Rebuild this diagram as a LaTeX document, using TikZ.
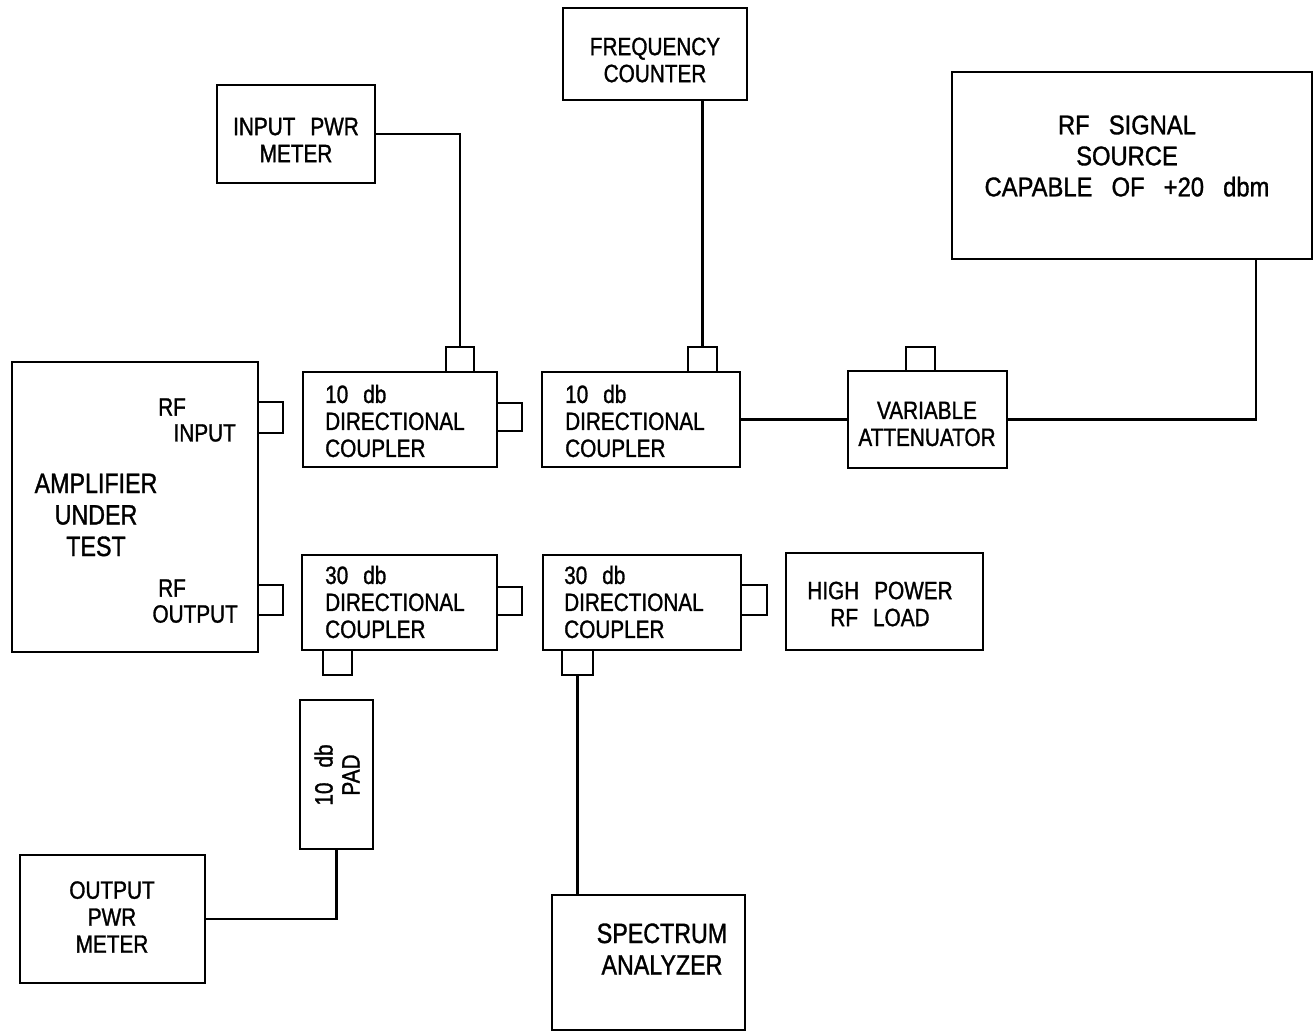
\documentclass[tikz,border=0pt]{standalone}
\usepackage{fontspec}
\setmainfont{Liberation Sans}[FakeStretch=0.83,WordSpace=2.6,FakeBold=1.2]
\newfontfamily\widefont{Liberation Sans}[FakeStretch=0.88,WordSpace=2.9,FakeBold=1.2]
\usetikzlibrary{fit}
\tikzset{
  box/.style={draw, line width=2.2pt, inner sep=0pt},
  wire/.style={line width=2.2pt},
  txt/.style={inner sep=0pt, align=center, font=\fontsize{25}{27}\selectfont},
  bigtxt/.style={txt, font=\fontsize{28}{31.5}\selectfont},
  txtl/.style={txt, align=left, anchor=west},
}
\newcommand{\mybox}[5]{%
  \path (#2,#3) coordinate (#1-nw) (#4,#5) coordinate (#1-se);
  \node[box, fit=(#1-nw)(#1-se)] (#1) {};}
\begin{document}
\begin{tikzpicture}[x=1pt,y=-1pt]
\useasboundingbox (0,0) rectangle (1314,1033);
% amplifier
\mybox{amp}{12}{362}{258}{652}
\mybox{ampin}{258}{402}{283}{433}
\mybox{ampout}{258}{585}{283}{615}
\node[bigtxt] (amptxt) at (96,515) {AMPLIFIER\\UNDER\\TEST};
\node[txt, anchor=west] (rfin1) at (158,407) {RF};
\node[txt, anchor=east] (rfin2) at (236,433) {INPUT};
\node[txt, anchor=west] (rfout1) at (158,588) {RF};
\node[txt, anchor=east] (rfout2) at (238,614) {OUTPUT};
% 10 db couplers
\mybox{ca}{303}{372}{497}{467}
\mybox{cat}{446}{347}{474}{372}
\mybox{car}{497}{403}{522}{431}
\node[txtl] (catxt) at (325,421) {10 db\\DIRECTIONAL\\COUPLER};
\mybox{cb}{542}{372}{740}{467}
\mybox{cbt}{688}{347}{717}{372}
\node[txtl] (cbtxt) at (565,421) {10 db\\DIRECTIONAL\\COUPLER};
% attenuator
\mybox{att}{848}{371}{1007}{468}
\mybox{attt}{906}{347}{935}{371}
\node[txt] (atttxt) at (927,424) {VARIABLE\\ATTENUATOR};
% source
\mybox{src}{952}{72}{1312}{259}
\node[txt, font=\widefont\fontsize{27}{31}\selectfont] (srctxt) at (1127,156) {RF SIGNAL\\SOURCE\\CAPABLE OF +20 dbm};
% frequency counter
\mybox{fc}{563}{8}{747}{100}
\node[txt] (fctxt) at (655,60) {FREQUENCY\\COUNTER};
% input power meter
\mybox{ipm}{217}{85}{375}{183}
\node[txt] (ipmtxt) at (296,140) {INPUT PWR\\METER};
% 30 db couplers
\mybox{cc}{302}{555}{497}{650}
\mybox{ccr}{497}{587}{522}{615}
\mybox{ccb}{323}{650}{352}{675}
\node[txtl] (cctxt) at (325,602) {30 db\\DIRECTIONAL\\COUPLER};
\mybox{cd}{543}{555}{741}{650}
\mybox{cdr}{741}{585}{767}{615}
\mybox{cdb}{562}{650}{593}{675}
\node[txtl] (cdtxt) at (564,602) {30 db\\DIRECTIONAL\\COUPLER};
% load
\mybox{hpl}{786}{553}{983}{650}
\node[txt] (hpltxt) at (880,604) {HIGH POWER\\RF LOAD};
% pad
\mybox{pad}{300}{700}{373}{849}
\node[txt, rotate=90] (padtxt) at (337,775) {10 db\\PAD};
% output power meter
\mybox{opm}{20}{855}{205}{983}
\node[txt] (opmtxt) at (112,917) {OUTPUT\\PWR\\METER};
% spectrum analyzer
\mybox{sa}{552}{895}{745}{1030}
\node[bigtxt] (satxt) at (662,949) {SPECTRUM\\ANALYZER};
% connectors
\draw[wire] (ipm.east) -| (cat.north);
\draw[wire] (cbt.north) -- (cbt.north |- fc.south);
\draw[wire] (cb.east) -- (att.west);
\draw[wire] (att.east) -| ([xshift=-57pt]src.south east);
\draw[wire] (cdb.south) -- (cdb.south |- sa.north);
\draw[wire] (pad.south) |- (opm.east);
\end{tikzpicture}
\end{document}
